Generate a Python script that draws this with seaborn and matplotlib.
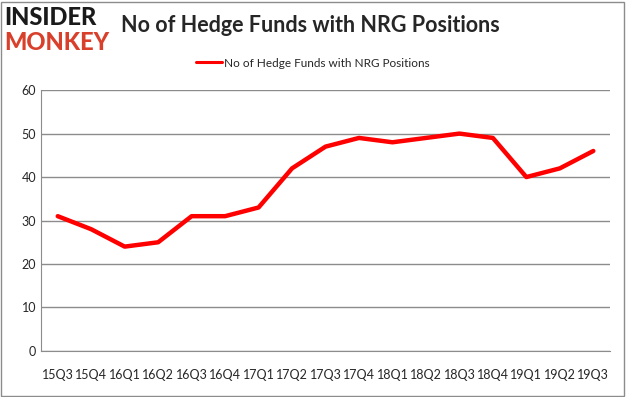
import matplotlib
matplotlib.use("Agg")
import matplotlib.pyplot as plt
import seaborn as sns
import pandas as pd

# ── DATA ─────────────────────────────────────────────
quarters = ['15Q3', '15Q4', '16Q1', '16Q2', '16Q3', '16Q4', '17Q1', '17Q2', '17Q3',
            '17Q4', '18Q1', '18Q2', '18Q3', '18Q4', '19Q1', '19Q2', '19Q3']
funds = [31, 28, 24, 25, 31, 31, 33, 42, 47, 49, 48, 49, 50, 49, 40, 42, 46]
series_name = 'No of Hedge Funds with NRG Positions'
y_ticks = [0, 10, 20, 30, 40, 50, 60]

df = pd.DataFrame({'quarter': quarters, 'funds': funds})

sns.set_style("white")
plt.rcParams['font.family'] = ['Lato', 'DejaVu Sans']

fig = plt.figure(figsize=(6.26, 3.97), dpi=100)
ax = fig.add_axes([0.0655, 0.116, 0.909, 0.657])

sns.lineplot(data=df, x='quarter', y='funds', ax=ax, color='#ff0000',
             linewidth=3.2, label=series_name, sort=False)

ax.set_xlim(-0.5, len(quarters) - 0.5)
ax.set_ylim(0, 60)
ax.set_yticks(y_ticks)
ax.set_xlabel('')
ax.set_ylabel('')
ax.grid(axis='y', color='#8c8c8c', linewidth=1)
ax.set_axisbelow(True)
for side in ['top', 'right']:
    ax.spines[side].set_visible(False)
for side in ['left', 'bottom']:
    ax.spines[side].set_color('#8c8c8c')
ax.set_xticks([i - 0.5 for i in range(len(quarters) + 1)], minor=True)
ax.tick_params(axis='x', which='major', length=0, pad=13, labelsize=9)
ax.tick_params(axis='x', which='minor', length=4, color='#8c8c8c', direction='out')
ax.tick_params(axis='y', length=0, labelsize=9)
ax.set_xticks(range(len(quarters)))
ax.set_xticklabels(quarters)

# legend centred on the figure, under the title
ax.legend(loc='center', bbox_to_anchor=(0.5, 0.841), bbox_transform=fig.transFigure,
          frameon=False, fontsize=8.5, handlelength=2.2, handletextpad=0.2,
          borderaxespad=0)
ax.get_legend().get_lines()[0].set_linewidth(2.2)

# title and logo
fig.text(0.193, 0.935, series_name, fontsize=15.5, fontweight='bold', va='center', ha='left')
fig.text(0.007, 0.957, 'INSIDER', fontsize=17, fontweight='black', color='#1a1a1a',
         va='center', ha='left')
fig.text(0.007, 0.892, 'MONKEY', fontsize=17, fontweight='black', color='#d9402b',
         va='center', ha='left')

# outer border
fig.patches.append(plt.Rectangle((0.002, 0.003), 0.995, 0.993, transform=fig.transFigure,
                                 fill=False, edgecolor='#8c8c8c', linewidth=1))

fig.savefig('out.png', dpi=100)
